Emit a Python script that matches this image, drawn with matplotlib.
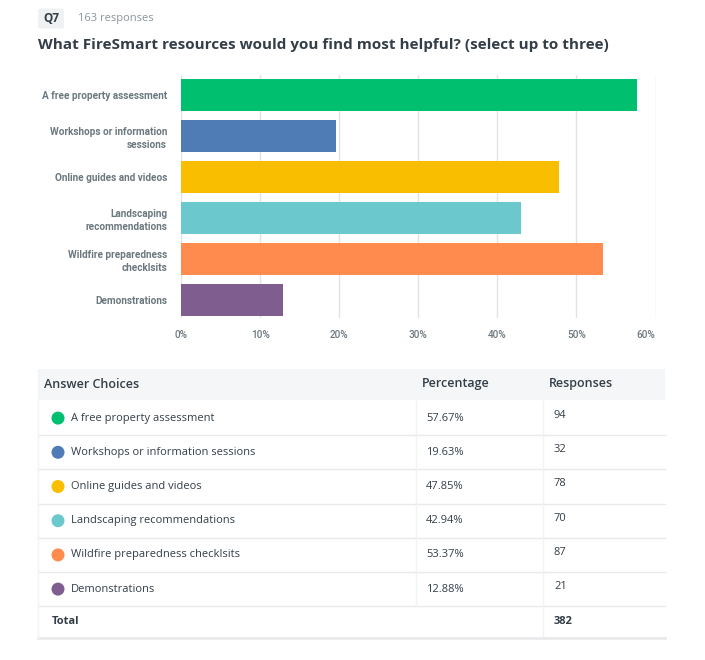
import matplotlib.pyplot as plt
from matplotlib.patches import Rectangle, Circle, FancyBboxPatch

plt.rcParams['font.family'] = ['Open Sans', 'DejaVu Sans']

# survey data
choices = ['A free property assessment', 'Workshops or information sessions',
           'Online guides and videos', 'Landscaping recommendations',
           'Wildfire preparedness checklsits', 'Demonstrations']
chart_labels = ['A free property assessment', 'Workshops or information\nsessions',
                'Online guides and videos', 'Landscaping\nrecommendations',
                'Wildfire preparedness\nchecklsits', 'Demonstrations']
percentages = [57.67, 19.63, 47.85, 42.94, 53.37, 12.88]
responses = [94, 32, 78, 70, 87, 21]
total = 382
n_responses = 163
colors = ['#00bf6f', '#507cb6', '#f9be00', '#6bc8cd', '#ff8b4f', '#7f5e8f']
xticks = [0, 10, 20, 30, 40, 50, 60]

dark = '#333e48'
gray = '#6b787f'
line = '#e8eaeb'

W, H = 705, 660
fig = plt.figure(figsize=(W / 100, H / 100), dpi=100)

# overlay in pixel coordinates for header and table
ov = fig.add_axes([0, 0, 1, 1])
ov.set_xlim(0, W)
ov.set_ylim(H, 0)
ov.axis('off')

ov.add_patch(FancyBboxPatch((38, 8.5), 26, 20, boxstyle='round,pad=0,rounding_size=2',
                            facecolor='#eff1f2', edgecolor='none'))
ov.text(51, 18.5, 'Q7', ha='center', va='center', fontsize=8.5, fontweight='bold', color=dark)
ov.text(78, 18.5, f'{n_responses} responses', ha='left', va='center', fontsize=8, color='#8a959c')
ov.text(38, 45, 'What FireSmart resources would you find most helpful? (select up to three)',
        ha='left', va='center', fontsize=11, fontweight='bold', color=dark)

# bar chart
ax = fig.add_axes([181 / W, 1 - 318 / H, (655.5 - 181) / W, (318 - 75) / H])
y = list(range(len(choices)))
ax.barh(y, percentages, height=0.78, color=colors, zorder=3)
ax.set_ylim(len(choices) - 0.56, -0.49)
ax.set_xlim(0, 60)
ax.set_xticks(xticks)
ax.set_xticklabels([f'{t}%' for t in xticks])
ax.set_yticks(y)
ax.set_yticklabels(chart_labels, linespacing=1.4)
ax.tick_params(axis='x', length=0, pad=9, labelsize=7.2, labelcolor=gray)
ax.tick_params(axis='y', length=0, pad=10, labelsize=7.2, labelcolor=gray)
for lab in ax.get_yticklabels():
    lab.set_fontfamily(['Roboto', 'DejaVu Sans'])
    lab.set_fontweight('bold')
for lab in ax.get_xticklabels():
    lab.set_fontfamily(['Roboto', 'DejaVu Sans'])
    lab.set_fontweight('medium')
ax.get_xticklabels()[-1].set_horizontalalignment('right')
ax.grid(axis='x', color='#e0e2e3', linewidth=1, zorder=0)
for s in ax.spines.values():
    s.set_visible(False)
ax.patch.set_visible(False)

# table
tl, tr = 38, 665
c1, c2 = 416, 543
ov.add_patch(Rectangle((tl, 369), tr - tl, 31, facecolor='#f5f6f7', edgecolor='none'))
ov.text(44, 384, 'Answer Choices', ha='left', va='center', fontsize=9, fontweight='semibold', color=dark)
ov.text(c1 + 6, 384, 'Percentage', ha='left', va='center', fontsize=9, fontweight='semibold', color=dark)
ov.text(c2 + 6, 384, 'Responses', ha='left', va='center', fontsize=9, fontweight='semibold', color=dark)

row_h = 34.2
top = 401
for i, (name, p, r, c) in enumerate(zip(choices, percentages, responses, colors)):
    yc = top + row_h * (i + 0.5)
    ov.add_patch(Circle((58, yc), 6.5, facecolor=c, edgecolor='none'))
    ov.text(71, yc, name, ha='left', va='center', fontsize=8, color=dark)
    ov.text(c1 + 10, yc, f'{p:.2f}%', ha='left', va='center', fontsize=8, color=dark)
    ov.text(c2 + 11, yc - 2.5, str(r), ha='left', va='center', fontsize=8, color=dark)
    ov.plot([tl, tr], [top + row_h * (i + 1)] * 2, color=line, linewidth=1)
    ov.plot([c1, c1], [top + row_h * i, top + row_h * (i + 1)], color='#f2f3f4', linewidth=1)
    ov.plot([c2, c2], [top + row_h * i, top + row_h * (i + 1)], color='#f2f3f4', linewidth=1)

yt = top + row_h * len(choices) + 15
ov.text(52, yt, 'Total', ha='left', va='center', fontsize=8, fontweight='bold', color=dark)
ov.text(c2 + 11, yt, str(total), ha='left', va='center', fontsize=8, fontweight='bold', color=dark)
ov.plot([c2, c2], [top + row_h * len(choices), 637], color='#f2f3f4', linewidth=1)
ov.plot([tl, tr], [638, 638], color=line, linewidth=2)
ov.plot([tl, tl], [369, 638], color='#f2f3f4', linewidth=1)

fig.savefig('out.png', dpi=100, facecolor='white')
